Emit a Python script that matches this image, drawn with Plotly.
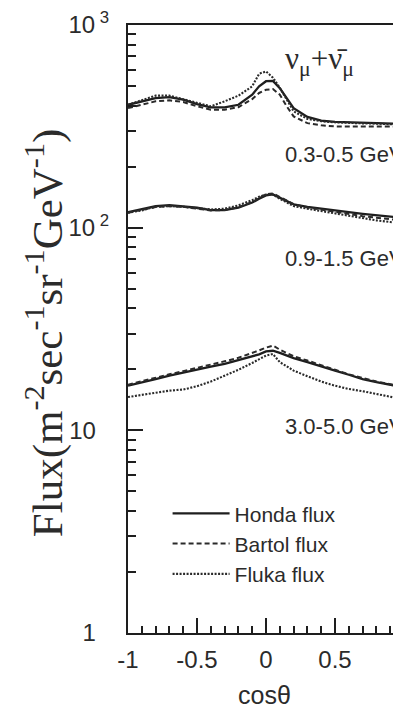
import plotly.graph_objects as go

# cos(theta) grid
cos_theta = [-1.0, -0.9, -0.8, -0.7, -0.6, -0.5, -0.4, -0.3, -0.2, -0.1, -0.05, 0.0,
             0.05, 0.1, 0.15, 0.2, 0.3, 0.4, 0.5, 0.6, 0.7, 0.8, 0.9, 1.0]

# 0.3-0.5 GeV
honda_low = [404, 420, 436, 441, 428, 407, 392, 392, 404, 453, 498, 528,
             530, 488, 436, 389, 352, 337, 333, 331, 330, 328, 327, 325]
bartol_low = [389, 404, 420, 425, 417, 397, 382, 382, 393, 431, 462, 479,
              483, 453, 397, 354, 328, 320, 316, 316, 316, 316, 316, 316]
fluka_low = [404, 425, 448, 448, 431, 412, 397, 420, 448, 498, 575, 590,
             550, 490, 431, 375, 344, 335, 331, 328, 327, 326, 325, 322]

# 0.9-1.5 GeV
honda_mid = [119.4, 123.0, 127.8, 129.2, 127.8, 125.4, 122.1, 122.1, 125.4, 133.0, 138.8, 144.2,
             145.8, 140.4, 135.2, 130.3, 126.8, 124.0, 121.7, 119.4, 117.1, 115.0, 113.2, 111.5]
bartol_mid = [118.5, 122.1, 126.3, 127.8, 126.8, 124.0, 121.7, 122.1, 126.3, 133.7, 140.4, 146.4,
              147.5, 142.0, 135.7, 130.7, 125.8, 122.6, 119.4, 116.7, 114.0, 112.0, 110.0, 108.2]
fluka_mid = [118.5, 121.7, 126.8, 127.8, 126.8, 124.9, 123.0, 124.0, 128.8, 136.7, 142.0, 145.8,
             145.8, 138.8, 133.0, 127.8, 124.0, 120.7, 117.1, 114.0, 111.1, 108.6, 106.6, 105.0]

# 3.0-5.0 GeV
honda_high = [16.6, 17.3, 17.9, 18.6, 19.2, 19.8, 20.6, 21.3, 22.2, 23.2, 23.7, 24.5,
              24.7, 24.1, 23.4, 22.7, 21.7, 20.6, 19.7, 18.8, 17.9, 17.3, 16.8, 16.3]
bartol_high = [16.8, 17.5, 18.2, 18.9, 19.6, 20.3, 21.0, 21.9, 22.8, 24.0, 24.8, 25.6,
               26.2, 25.0, 24.1, 23.2, 22.1, 20.9, 19.9, 18.9, 18.1, 17.4, 16.9, 16.4]
fluka_high = [14.6, 15.0, 15.3, 15.7, 15.9, 16.5, 17.4, 18.6, 19.9, 21.5, 22.5, 23.4,
              23.8, 21.7, 20.7, 19.7, 18.5, 17.4, 16.6, 16.0, 15.6, 15.1, 14.6, 14.2]

models = ["Honda flux", "Bartol flux", "Fluka flux"]
series = {
    "Honda flux": [honda_low, honda_mid, honda_high],
    "Bartol flux": [bartol_low, bartol_mid, bartol_high],
    "Fluka flux": [fluka_low, fluka_mid, fluka_high],
}
band_labels = ["0.3-0.5 GeV", "0.9-1.5 GeV", "3.0-5.0 GeV"]
band_label_x = 0.123
band_label_logy = [2.36, 1.85, 1.02]

x_major = [-1, -0.5, 0, 0.5, 1]
x_major_text = ["-1", "-0.5", "0", "0.5", "1"]
x_minor = [-0.9, -0.8, -0.7, -0.6, -0.4, -0.3, -0.2, -0.1, 0.1, 0.2, 0.3, 0.4, 0.6, 0.7, 0.8, 0.9]
y_major = [1, 10, 100, 1000]
NB = "\u00a0"
y_major_text = ["1" + NB * 2, "10" + NB * 2, "10<sup> 2</sup>", "10<sup> 3</sup>"]
y_minor = [2, 3, 4, 5, 6, 7, 8, 9, 20, 30, 40, 50, 60, 70, 80, 90,
           200, 300, 400, 500, 600, 700, 800, 900]

styles = {
    "Honda flux": dict(color="#1e1e1e", width=2.3, dash="solid"),
    "Bartol flux": dict(color="#2a2a2a", width=2.0, dash="5px,3px"),
    "Fluka flux": dict(color="#2a2a2a", width=2.1, dash="2px,1.5px"),
}

LINE = "#1e1e1e"
TXT = "#2b2b2b"
SANS = "Liberation Sans, Arial, sans-serif"
SERIF = "Liberation Serif, Times New Roman, serif"

fig = go.Figure()
for m in models:
    for i, vals in enumerate(series[m]):
        fig.add_trace(go.Scatter(
            x=cos_theta, y=vals, mode="lines", name=m,
            legendgroup=m, showlegend=(i == 0),
            line=styles[m],
        ))

for lab, ly in zip(band_labels, band_label_logy):
    fig.add_annotation(x=band_label_x, y=ly, xref="x", yref="y", text=lab, showarrow=False,
                       xanchor="left", yanchor="middle",
                       font=dict(family=SANS, size=22, color=TXT))

fig.add_annotation(x=0.39, y=2.82, xref="x", yref="y",
                   text="ν<sub>μ</sub>+ν\u0304<sub>μ</sub>", showarrow=False,
                   xanchor="center", yanchor="middle",
                   font=dict(family=SERIF, size=31, color=TXT))

fig.add_annotation(x=-0.308, y=0.493, xref="paper", yref="paper",
                   text="Flux(m<sup>-2</sup>sec<sup>-1</sup>sr<sup>-1</sup>GeV<sup>-1</sup>)",
                   textangle=-90, showarrow=False, xanchor="center", yanchor="middle",
                   font=dict(family=SERIF, size=43, color=TXT))

# page body has an 8px default margin: figure is sized to end at the window edge
fig.update_layout(
    width=393, height=701,
    margin=dict(l=120, r=0, t=17, b=76),
    paper_bgcolor="white", plot_bgcolor="white",
    showlegend=True,
    legend=dict(x=0.145, y=0.23, xanchor="left", yanchor="top",
                bgcolor="rgba(0,0,0,0)", font=dict(family=SANS, size=21, color=TXT),
                itemwidth=57, tracegroupgap=0),
    xaxis=dict(range=[-1, 0.978], tickmode="array", tickvals=x_major, ticktext=x_major_text,
               ticks="inside", ticklen=15, tickwidth=1.5, tickcolor=LINE,
               showline=True, linewidth=2, linecolor=LINE, mirror=True,
               showgrid=False, zeroline=False, ticklabelstandoff=4,
               minor=dict(tickmode="array", tickvals=x_minor, ticks="inside", ticklen=7,
                          tickwidth=1.5, tickcolor=LINE, showgrid=False),
               tickfont=dict(family=SANS, size=24, color=TXT),
               title=dict(text="cosθ", font=dict(family=SANS, size=25, color=TXT), standoff=19)),
    yaxis=dict(type="log", range=[0, 3], tickmode="array", tickvals=y_major, ticktext=y_major_text,
               ticks="inside", ticklen=15, tickwidth=1.5, tickcolor=LINE,
               showline=True, linewidth=2, linecolor=LINE, mirror=False,
               showgrid=False, zeroline=False, ticklabelstandoff=12,
               minor=dict(tickmode="array", tickvals=y_minor, ticks="inside", ticklen=8,
                          tickwidth=1.5, tickcolor=LINE, showgrid=False),
               tickfont=dict(family=SANS, size=24, color=TXT)),
)

fig.write_html("out.html")
